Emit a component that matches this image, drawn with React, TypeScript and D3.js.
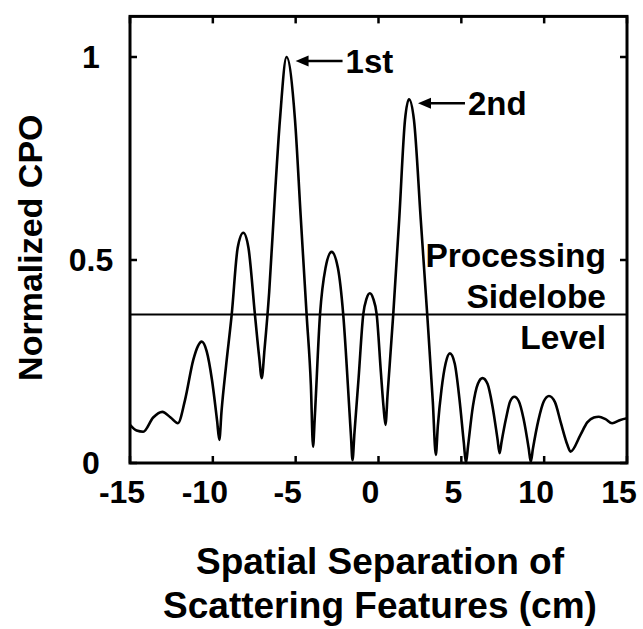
import React from "react";
import * as d3 from "d3";

// Spatial separation (cm) and normalized CPO values
const cpoX = [
  -15.0, -14.6, -14.2, -13.6, -13.05, -12.55, -12.11, -11.68, -11.18, -10.9,
  -10.67, -10.37, -10.06, -9.74, -9.61, -9.47, -9.2, -8.86, -8.5, -8.16,
  -7.85, -7.46, -7.2, -7.05, -6.88, -6.6, -6.25, -5.95, -5.55, -5.04,
  -4.7, -4.34, -4.08, -3.95, -3.85, -3.53, -3.2, -2.83, -2.45, -2.13,
  -1.75, -1.66, -1.57, -1.45, -1.2, -0.92, -0.72, -0.52, -0.32, -0.11,
  0.15, 0.3, 0.42, 0.55, 0.89, 1.25, 1.6, 1.84, 2.14, 2.55,
  2.94, 3.28, 3.46, 3.58, 3.8, 4.05, 4.31, 4.6, 4.88, 5.15,
  5.28, 5.4, 5.7, 6.0, 6.28, 6.58, 6.88, 7.18, 7.31, 7.42,
  7.7, 7.95, 8.2, 8.47, 8.75, 9.07, 9.19, 9.32, 9.65, 9.98,
  10.29, 10.65, 11.0, 11.4, 11.59, 12.2, 12.6, 13.0, 13.3, 13.7,
  14.1, 14.6, 15.0,
];
const cpoY = [
  0.094, 0.08, 0.077, 0.112, 0.126, 0.112, 0.098, 0.155, 0.254, 0.288,
  0.299, 0.275, 0.207, 0.103, 0.057, 0.13, 0.24, 0.366, 0.53, 0.567,
  0.53, 0.366, 0.26, 0.209, 0.28, 0.42, 0.66, 0.845, 1.0, 0.845,
  0.61, 0.366, 0.19, 0.04, 0.11, 0.366, 0.48, 0.52, 0.48, 0.366,
  0.125, 0.065, 0.007, 0.075, 0.21, 0.366, 0.405, 0.418, 0.405, 0.366,
  0.22, 0.14, 0.094, 0.17, 0.366, 0.6, 0.845, 0.896, 0.845, 0.6,
  0.366, 0.15, 0.02, 0.09, 0.18, 0.245, 0.27, 0.245, 0.16, 0.05,
  0.0, 0.04, 0.14, 0.195, 0.209, 0.195, 0.14, 0.06, 0.024, 0.05,
  0.11, 0.152, 0.163, 0.152, 0.11, 0.035, 0.003, 0.035, 0.105, 0.152,
  0.165, 0.15, 0.1, 0.045, 0.028, 0.07, 0.1, 0.112, 0.114, 0.108,
  0.098, 0.106, 0.11,
];

const sidelobeLevel = 0.366;
const sidelobeText = ["Processing", "Sidelobe", "Level"];

const peakLabels = ["1st", "2nd"];
const peakX = [-5.55, 1.84];
const peakY = [1.0, 0.896];

const xTicks = [-15, -10, -5, 0, 5, 10, 15];
const yTicks = [0, 0.5, 1];
const yTickLabels = ["0", "0.5", "1"];

const xTitle = ["Spatial Separation of", "Scattering Features (cm)"];
const yTitle = "Normalized CPO";

const W = 643;
const H = 629;
const FONT = "'Liberation Sans', Arial, Helvetica, sans-serif";

export default function App() {
  const x = d3.scaleLinear().domain([-15, 15]).range([130, 627]);
  const y = d3.scaleLinear().domain([0, 1.1]).range([463, 16.4]);
  const [x0, x1] = x.range();
  const [yb, yt] = y.range();

  const pts = cpoX.map((v, i) => [v, cpoY[i]] as [number, number]);
  const line = d3
    .line<[number, number]>()
    .x((d) => x(d[0]))
    .y((d) => y(d[1]))
    .curve(d3.curveMonotoneX);

  const tick = 7;

  return (
    <svg
      width={W}
      height={H}
      style={{ position: "absolute", left: 0, top: 0, background: "#fff" }}
      fontFamily={FONT}
      fontWeight="bold"
    >
      <rect x={0} y={0} width={W} height={H} fill="#fff" />
      {/* curve */}
      <path d={line(pts) || ""} fill="none" stroke="#000" strokeWidth={2.6} strokeLinejoin="round" />
      {/* sidelobe level */}
      <line x1={x0} x2={x1} y1={y(sidelobeLevel)} y2={y(sidelobeLevel)} stroke="#000" strokeWidth={2} />
      {/* frame */}
      <rect x={x0} y={yt} width={x1 - x0} height={yb - yt} fill="none" stroke="#000" strokeWidth={3} />
      {/* x ticks */}
      {xTicks.map((t) => (
        <g key={"xt" + t}>
          <line x1={x(t)} x2={x(t)} y1={yb} y2={yb - tick} stroke="#000" strokeWidth={2.5} />
          <line x1={x(t)} x2={x(t)} y1={yt} y2={yt + tick} stroke="#000" strokeWidth={2.5} />
          <text x={x(t) - 8} y={503} textAnchor="middle" fontSize={32}>
            {t}
          </text>
        </g>
      ))}
      {/* y ticks */}
      {yTicks.map((t, i) => (
        <g key={"yt" + t}>
          <line x1={x0} x2={x0 + tick} y1={y(t)} y2={y(t)} stroke="#000" strokeWidth={2.5} />
          <line x1={x1} x2={x1 - tick} y1={y(t)} y2={y(t)} stroke="#000" strokeWidth={2.5} />
          <text x={91} y={y(t)} dy="0.34em" textAnchor="middle" fontSize={32}>
            {yTickLabels[i]}
          </text>
        </g>
      ))}
      {/* peak annotations */}
      {peakLabels.map((lab, i) => {
        const tx = x(peakX[i]) + 9;
        const ty = y(peakY[i]) + 4;
        return (
          <g key={lab}>
            <path d={`M${tx},${ty} L${tx + 13},${ty - 5.5} L${tx + 13},${ty + 5.5} Z`} fill="#000" />
            <line x1={tx + 10} x2={tx + 47} y1={ty} y2={ty} stroke="#000" strokeWidth={2.5} />
            <text x={tx + 50} y={ty} dy="0.36em" fontSize={33}>
              {lab}
            </text>
          </g>
        );
      })}
      {/* sidelobe label */}
      {sidelobeText.map((s, i) => (
        <text key={s} x={606} y={267 + i * 40.8} textAnchor="end" fontSize={33.5}>
          {s}
        </text>
      ))}
      {/* axis titles */}
      {xTitle.map((s, i) => (
        <text key={s} x={380} y={574 + i * 44} textAnchor="middle" fontSize={37}>
          {s}
        </text>
      ))}
      <text
        transform={`translate(42,${(yb + yt) / 2 + 8}) rotate(-90)`}
        textAnchor="middle"
        fontSize={34}
      >
        {yTitle}
      </text>
    </svg>
  );
}
